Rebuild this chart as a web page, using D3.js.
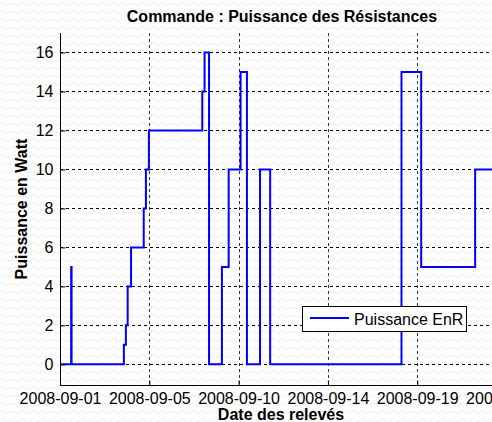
<!DOCTYPE html>
<html><head><meta charset="utf-8">
<script src="https://cdn.jsdelivr.net/npm/d3@7"></script>
<style>html,body{margin:0;padding:0;background:#fff;overflow:hidden}svg{display:block}</style>
</head><body>
<script>
const title = "Commande : Puissance des Résistances";
const yTitle = "Puissance en Watt";
const xTitle = "Date des relevés";
const seriesName = "Puissance EnR";
const times = ["2008-09-01 00:00","2008-09-01 13:30","2008-09-01 14:00","2008-09-04 05:15","2008-09-04 07:40","2008-09-04 09:50","2008-09-04 13:55","2008-09-05 05:15","2008-09-05 07:55","2008-09-05 11:30","2008-09-08 04:05","2008-09-08 06:50","2008-09-08 12:15","2008-09-09 03:50","2008-09-09 12:00","2008-09-10 02:25","2008-09-10 10:05","2008-09-11 01:55","2008-09-11 14:10","2008-09-18 05:00","2008-09-19 04:50","2008-09-21 22:05","2008-09-25 00:00"];
const values = [0,5,0,1,2,4,6,8,10,12,14,16,0,5,10,15,0,10,0,15,5,10,10];
const xTickTimes = ["2008-09-01 00:00","2008-09-05 12:00","2008-09-10 00:00","2008-09-14 12:00","2008-09-19 00:00","2008-09-23 12:00"];
const yTicks = [0,2,4,6,8,10,12,14,16];

(function(){
const W = 492, H = 422;
const FONT = "Liberation Sans, Arial, sans-serif";
const parse = d3.timeParse("%Y-%m-%d %H:%M");
const data = times.map((t,i)=>({t:parse(t), v:values[i]}));
const mLeft = 60, mTop = 33, mBottom = 385;
const x = d3.scaleTime().domain([parse("2008-09-01 00:00"), parse("2008-09-23 12:00")]).range([mLeft, mLeft + 89.3*5]);
const y = d3.scaleLinear().domain([-1.06, 17]).range([mBottom, mTop]);

const svg = d3.select("body").append("svg").attr("width", W).attr("height", H);
const defs = svg.append("defs");
const pat = defs.append("pattern").attr("id","bg").attr("width",10).attr("height",8).attr("patternUnits","userSpaceOnUse");
pat.append("rect").attr("width",10).attr("height",8).attr("fill","#fff");
pat.append("path").attr("d","M0,5 Q2.5,1 5,4 T10,4").attr("fill","none").attr("stroke","#ececec").attr("stroke-width",1);
svg.append("rect").attr("width",W).attr("height",H).attr("fill","url(#bg)");

const plot = svg.append("g");

// grid
plot.append("g").selectAll("line").data(yTicks).join("line")
  .attr("x1",mLeft).attr("x2",W).attr("y1",d=>Math.round(y(d))+0.5).attr("y2",d=>Math.round(y(d))+0.5)
  .attr("stroke","#000").attr("stroke-dasharray","3,3").attr("stroke-width",1);
plot.append("g").selectAll("line").data(xTickTimes.map(parse).slice(1)).join("line")
  .attr("x1",d=>Math.round(x(d))+0.5).attr("x2",d=>Math.round(x(d))+0.5).attr("y1",mTop).attr("y2",mBottom)
  .attr("stroke","#333").attr("stroke-dasharray","3,3").attr("stroke-width",1);

// line
const line = d3.line().x(d=>x(d.t)).y(d=>y(d.v)).curve(d3.curveStepAfter);
plot.append("path").datum(data).attr("d",line).attr("fill","none").attr("stroke","#0000ff").attr("stroke-width",2);

// axes
const yAxis = d3.axisLeft(y).tickValues(yTicks).tickSizeInner(-5).tickSizeOuter(0).tickPadding(7);
const gy = svg.append("g").attr("transform",`translate(${mLeft+0.5},0)`).call(yAxis);
gy.select(".domain").attr("d",`M0,${mTop}V${mBottom}`).attr("stroke","#000");
gy.selectAll("text").attr("font-family",FONT).attr("font-size",16).attr("fill","#000");

const xAxis = d3.axisBottom(x).tickValues(xTickTimes.map(parse)).tickFormat(d3.timeFormat("%Y-%m-%d")).tickSizeInner(-5).tickSizeOuter(0).tickPadding(7);
const gx = svg.append("g").attr("transform",`translate(0,${mBottom+0.5})`).call(xAxis);
gx.select(".domain").attr("d",`M${mLeft},0H${W}`).attr("stroke","#000");
gx.selectAll("text").attr("font-family",FONT).attr("font-size",16).attr("fill","#000");

// titles
svg.append("text").attr("x",282).attr("y",21.5).attr("text-anchor","middle").attr("font-family",FONT).attr("font-weight","bold").attr("font-size",16).text(title);
svg.append("text").attr("x",281).attr("y",420).attr("text-anchor","middle").attr("font-family",FONT).attr("font-weight","bold").attr("font-size",16).text(xTitle);
svg.append("text").attr("transform",`translate(26.5,${(mTop+mBottom)/2}) rotate(-90)`).attr("text-anchor","middle").attr("font-family",FONT).attr("font-weight","bold").attr("font-size",16).text(yTitle);

// legend
const lg = svg.append("g");
lg.append("rect").attr("x",302.5).attr("y",306.5).attr("width",164).attr("height",25).attr("fill","#fff").attr("stroke","#000");
lg.append("line").attr("x1",310).attr("x2",349).attr("y1",318).attr("y2",318).attr("stroke","#0000ff").attr("stroke-width",2);
lg.append("text").attr("x",354).attr("y",325).attr("font-family",FONT).attr("font-size",16).text(seriesName);
})();
</script>
</body></html>
